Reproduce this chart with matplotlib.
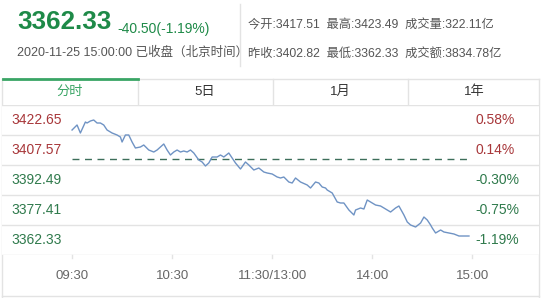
import numpy as np
import matplotlib
matplotlib.use("Agg")
import matplotlib.pyplot as plt

plt.rcParams["font.family"] = ["Liberation Sans", "Noto Sans CJK SC", "DejaVu Sans"]

# --- data ---
minutes = [0, 3, 5, 8, 9, 11, 13, 15, 17, 19, 21, 24, 27, 29, 30, 32, 34, 36, 38,
           41, 43, 46, 49, 51, 53, 55, 57, 59, 61, 63, 65, 67, 69, 71, 73, 76, 78,
           80, 82, 84, 87, 89, 91, 94, 96, 98, 101, 104, 106, 109, 112, 115, 117, 120,
           123, 125, 127, 130, 132, 134, 137, 141, 143, 146, 148, 150, 152, 153, 156,
           159, 161, 163, 166, 169, 170, 173, 175, 177, 179, 182, 185, 187, 189,
           191, 194, 196, 199, 201, 203, 206, 209, 211, 213, 215, 216, 218, 221, 223, 226, 229, 232, 238]
pix_y = [130, 125, 133, 122, 123, 121, 120, 123, 123, 125, 130, 133, 135, 137, 142,
         135, 135, 142, 148, 147, 145, 150, 152, 150, 147, 144, 150, 155, 152, 150,
         152, 151, 152, 150, 153, 160, 162, 166, 163, 157, 157, 155, 157, 153, 158,
         163, 169, 162, 165, 170, 168, 172, 173, 174,
         177, 178, 177, 182, 183, 178, 182, 185, 188, 182, 183, 187, 188, 190, 193,
         202, 203, 203, 210, 215, 210, 208, 209, 200, 202, 205, 206, 208, 210, 212,
         208, 206, 215, 222, 225, 227, 223, 217, 220, 225, 228, 233, 230, 232, 233, 234, 236, 236]
# price (3362.33 at row 240, 15.08 per 30 rows)
prices = [round(3362.33 + (240 - p) * 15.08 / 30, 2) for p in pix_y]

prev_close = 3402.82
price_ticks = [3422.65, 3407.57, 3392.49, 3377.41, 3362.33]
pct_ticks = ["0.58%", "0.14%", "-0.30%", "-0.75%", "-1.19%"]
time_ticks = [0, 60, 120, 180, 240]
time_labels = ["09:30", "10:30", "11:30/13:00", "14:00", "15:00"]
tabs = ["分时", "5日", "1月", "1年"]

W, H = 543, 298
fig = plt.figure(figsize=(W / 100, H / 100), dpi=100)
fig.patch.set_facecolor("white")

RED = "#a8373a"
GREEN = "#2f7a4c"
GRID = "#e3e3e3"


def fx(px):
    return px / W


def fy(py):
    return 1 - py / H


# chart axes: x from px 2 to 539, y from px 105 to 255
ax = fig.add_axes([fx(2), fy(255), fx(537), (255 - 105) / H])
step = 15.08
ax.set_ylim(price_ticks[-1] - step / 2, price_ticks[0] + step / 2)
ax.set_xlim(-42, 280)
for s in ax.spines.values():
    s.set_visible(False)
ax.set_xticks([])
ax.set_yticks([])
for k in range(6):
    ax.axhline(price_ticks[0] + step / 2 - k * step, color=GRID, lw=1, zorder=1)
ax.plot([0, 240], [prev_close, prev_close], color="#3d6e5a", lw=1, ls=(0, (5, 4)), zorder=2)
ax.plot(minutes, prices, color="#6f93c4", lw=1, zorder=3)

for p, pc in zip(price_ticks, pct_ticks):
    c = RED if p > prev_close else GREEN
    ax.text(-36.3, p, f"{p:.2f}", color=c, fontsize=10, va="center", ha="left")
    ax.text(242, p, pc, color=c, fontsize=10, va="center", ha="left")

# time axis labels
for t, lab in zip(time_ticks, time_labels):
    ax.plot([t, t], [price_ticks[-1] - step / 2, price_ticks[-1] - step / 2 - 1.6],
            color=GRID, lw=1, clip_on=False)
    ax.text(t, price_ticks[-1] - step / 2 - 10.8, lab, color="#666666", fontsize=9.5,
            ha="center", va="center")

# decoration overlay in pixel coordinates
ov = fig.add_axes([0, 0, 1, 1], zorder=-1)
ov.set_xlim(0, W)
ov.set_ylim(H, 0)
ov.axis("off")
ov.plot([2, 2], [79, 297], color=GRID, lw=1)
ov.plot([539, 539], [79, 297], color=GRID, lw=1)
ov.plot([2, 539], [296, 296], color=GRID, lw=1)
ov.plot([2, 539], [79, 79], color=GRID, lw=1)
ov.plot([240, 240], [4, 66], color=GRID, lw=1)
for xb in [138, 273, 408]:
    ov.plot([xb, xb], [79, 105], color=GRID, lw=1)
ov.plot([3, 138], [79, 79], color="#3aa565", lw=2)

tab_x = [70, 205, 340, 474]
for tx, t in zip(tab_x, tabs):
    ov.text(tx, 92, t, color="#3aa565" if t == "分时" else "#333333", fontsize=9.5,
            ha="center", va="center")

# header
ov.text(17, 22, "3362.33", color="#1e8a48", fontsize=18.7, fontweight="bold",
        ha="left", va="center")
ov.text(117, 29, "-40.50(-1.19%)", color="#1e8a48", fontsize=10, ha="left", va="center")
ov.text(17, 53, "2020-11-25 15:00:00 已收盘（北京时间）", color="#555555", fontsize=9,
        ha="left", va="center")
ov.text(248, 25, "今开:3417.51  最高:3423.49  成交量:322.11亿", color="#555555",
        fontsize=8.8, ha="left", va="center")
ov.text(248, 54, "昨收:3402.82  最低:3362.33  成交额:3834.78亿", color="#555555",
        fontsize=8.8, ha="left", va="center")

fig.savefig("out.png", dpi=100)
